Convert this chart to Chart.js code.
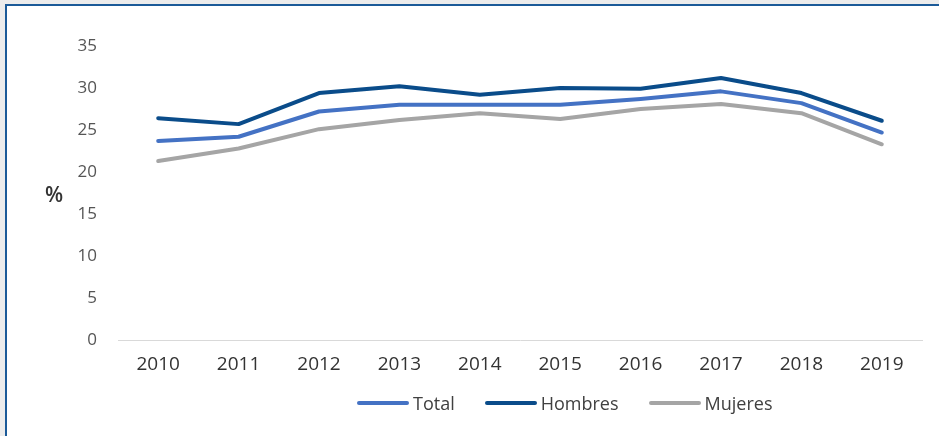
<!DOCTYPE html>
<html>
<head>
<meta charset="utf-8">
<script src="https://cdn.jsdelivr.net/npm/chart.js@4.4.1/dist/chart.umd.min.js"></script>
<style>
  html, body { margin: 0; padding: 0; }
  body { width: 939px; height: 436px; background: #ececec; position: relative; overflow: hidden; font-family: 'Open Sans', sans-serif; }
  #frame {
    position: absolute; left: 5px; top: 4px; right: 0; bottom: 0;
    background: #fff;
    border-top: 2px solid #1b5a98;
    border-left: 2px solid #1b5a98;
  }
  #wrap { position: absolute; left: 0; top: 0; width: 932px; height: 430px; }
  #unit {
    position: absolute; left: 38px; top: 174px;
    font-size: 21px; font-weight: 600; color: #333;
  }
  #legend {
    position: absolute; left: 350px; top: 385px;
    display: flex; align-items: center;
    font-size: 18px; color: #404040;
  }
  #legend .item { display: flex; align-items: center; margin-right: 30px; }
  #legend .swatch { width: 52px; height: 4px; border-radius: 2px; margin-right: 4px; }
</style>
</head>
<body>
<div id="frame">
  <div id="wrap"><canvas id="lineChart"></canvas></div>
  <div id="unit">%</div>
  <div id="legend"></div>
</div>
<script>
// years on the x axis
const years = ['2010', '2011', '2012', '2013', '2014', '2015', '2016', '2017', '2018', '2019'];

// percentages per series
const total    = [23.7, 24.2, 27.2, 28.0, 28.0, 28.0, 28.7, 29.6, 28.2, 24.7];
const hombres  = [26.4, 25.7, 29.4, 30.2, 29.2, 30.0, 29.9, 31.2, 29.4, 26.1];
const mujeres  = [21.3, 22.8, 25.1, 26.2, 27.0, 26.3, 27.5, 28.1, 27.0, 23.3];

const seriesNames = ['Total', 'Hombres', 'Mujeres'];
const seriesColors = ['#4472c4', '#0a4c8a', '#a5a5a5'];

const font = 'Open Sans';

function lineSet(label, data, color) {
    return {
        label: label,
        data: data,
        borderColor: color,
        backgroundColor: color,
        borderWidth: 4,
        borderCapStyle: 'round',
        borderJoinStyle: 'round',
        pointRadius: 0,
        pointHoverRadius: 0,
        tension: 0,
        fill: false
    };
}

// legend built from the chart's own label items
const htmlLegend = {
    id: 'htmlLegend',
    afterUpdate(chart) {
        const box = document.getElementById('legend');
        box.innerHTML = '';
        const items = chart.options.plugins.legend.labels.generateLabels(chart);
        items.forEach(it => {
            const el = document.createElement('div');
            el.className = 'item';
            const sw = document.createElement('span');
            sw.className = 'swatch';
            sw.style.background = it.strokeStyle;
            const tx = document.createElement('span');
            tx.textContent = it.text;
            el.appendChild(sw);
            el.appendChild(tx);
            box.appendChild(el);
        });
    }
};

const ctx = document.getElementById('lineChart').getContext('2d');
new Chart(ctx, {
    type: 'line',
    data: {
        labels: years,
        datasets: [
            lineSet(seriesNames[0], total, seriesColors[0]),
            lineSet(seriesNames[1], hombres, seriesColors[1]),
            lineSet(seriesNames[2], mujeres, seriesColors[2])
        ]
    },
    options: {
        responsive: true,
        maintainAspectRatio: false,
        animation: false,
        layout: { padding: { top: 40, right: 17, bottom: 56, left: 0 } },
        plugins: {
            tooltip: { enabled: false },
            legend: { display: false }
        },
        scales: {
            x: {
                offset: true,
                grid: { display: false },
                border: { display: true, color: '#d9d9d9', width: 1 },
                ticks: {
                    color: '#333',
                    padding: 5,
                    maxRotation: 0,
                    font: { family: font, size: 19 }
                },
                afterFit: s => { s.height = 40; }
            },
            y: {
                min: 0,
                max: 35,
                grid: { display: false, drawTicks: false },
                border: { display: false },
                ticks: {
                    stepSize: 5,
                    padding: 21,
                    color: '#555',
                    font: { family: font, size: 17 }
                },
                afterFit: s => { s.width = 111; }
            }
        }
    },
    plugins: [htmlLegend]
});
</script>
</body>
</html>
